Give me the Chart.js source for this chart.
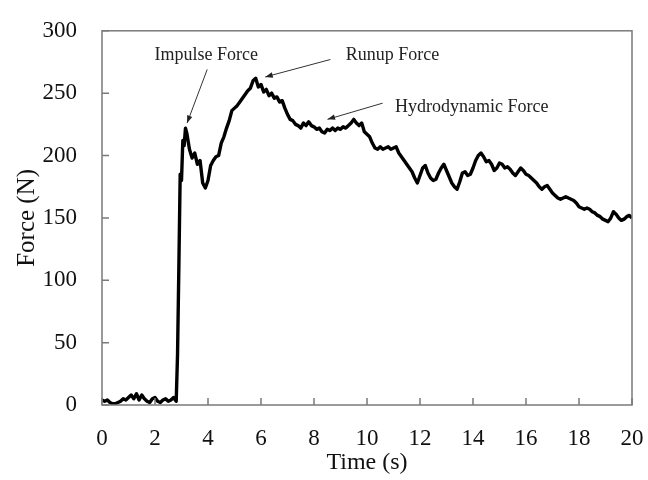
<!DOCTYPE html>
<html>
<head>
<meta charset="utf-8">
<script src="https://cdn.jsdelivr.net/npm/chart.js@4"></script>
<style>
  body { margin: 0; background: #fff; }
  #wrap { width: 648px; height: 480px; }
</style>
</head>
<body>
<div id="wrap"><canvas id="forceChart" width="648" height="480"></canvas></div>
<script>
// time (s) and force (N)
const times = [
  0.0, 0.1, 0.2, 0.3, 0.4, 0.5, 0.6, 0.7, 0.8, 0.9,
  1.0, 1.1, 1.2, 1.3, 1.4, 1.5, 1.6, 1.7, 1.8, 1.9,
  2.0, 2.1, 2.2, 2.3, 2.4, 2.5, 2.6, 2.7, 2.8, 2.85,
  2.9, 2.95, 3.0, 3.05, 3.1, 3.15, 3.2, 3.3, 3.4, 3.5,
  3.6, 3.7, 3.8, 3.9, 4.0, 4.1, 4.2, 4.3, 4.4, 4.5,
  4.6, 4.7, 4.8, 4.9, 5.0, 5.1, 5.2, 5.3, 5.4, 5.5,
  5.6, 5.7, 5.8, 5.9, 6.0, 6.1, 6.2, 6.3, 6.4, 6.5,
  6.6, 6.7, 6.8, 6.9, 7.0, 7.1, 7.2, 7.3, 7.4, 7.5,
  7.6, 7.7, 7.8, 7.9, 8.0, 8.1, 8.2, 8.3, 8.4, 8.5,
  8.6, 8.7, 8.8, 8.9, 9.0, 9.1, 9.2, 9.3, 9.4, 9.5,
  9.6, 9.7, 9.8, 9.9, 10.0, 10.1, 10.2, 10.3, 10.4, 10.5,
  10.6, 10.7, 10.8, 10.9, 11.0, 11.1, 11.2, 11.3, 11.4, 11.5,
  11.6, 11.7, 11.8, 11.9, 12.0, 12.1, 12.2, 12.3, 12.4, 12.5,
  12.6, 12.7, 12.8, 12.9, 13.0, 13.1, 13.2, 13.3, 13.4, 13.5,
  13.6, 13.7, 13.8, 13.9, 14.0, 14.1, 14.2, 14.3, 14.4, 14.5,
  14.6, 14.7, 14.8, 14.9, 15.0, 15.1, 15.2, 15.3, 15.4, 15.5,
  15.6, 15.7, 15.8, 15.9, 16.0, 16.1, 16.2, 16.3, 16.4, 16.5,
  16.6, 16.7, 16.8, 16.9, 17.0, 17.1, 17.2, 17.3, 17.4, 17.5,
  17.6, 17.7, 17.8, 17.9, 18.0, 18.1, 18.2, 18.3, 18.4, 18.5,
  18.6, 18.7, 18.8, 18.9, 19.0, 19.1, 19.2, 19.3, 19.4, 19.5,
  19.6, 19.7, 19.8, 19.9, 20.0
];
const forces = [
  4, 3, 4, 2, 1, 1, 2, 3, 5, 4,
  6, 8, 5, 9, 4, 8, 5, 3, 2, 5,
  6, 3, 2, 4, 5, 3, 4, 6, 3, 40,
  110, 185, 180, 212, 208, 222, 218, 205, 198, 202,
  193, 196, 178, 174, 180, 192, 196, 199, 200, 210,
  215, 222, 228, 236, 238, 240, 243, 246, 249, 252,
  254, 260, 262, 255, 257, 251, 253, 248, 250, 246,
  247, 243, 244, 238, 233, 229, 228, 225, 224, 222,
  226, 224, 227, 224, 223, 221, 222, 219, 218, 221,
  220, 222, 220, 222, 221, 223, 222, 224, 226, 229,
  226, 224, 226, 219, 217, 215, 210, 206, 205, 207,
  205, 206, 207, 205, 206, 207, 202, 199, 196, 193,
  190, 187, 182, 178, 184, 190, 192, 186, 182, 180,
  181, 186, 190, 193, 188, 183, 178, 175, 173, 179,
  186, 187, 184, 185, 190, 196, 200, 202, 199, 195,
  196, 193, 188, 190, 194, 193, 190, 191, 189, 186,
  184, 187, 190, 188, 185, 184, 182, 180, 178, 175,
  173, 175, 176, 173, 170, 168, 166, 165, 166, 167,
  166, 165, 164, 162, 159, 158, 157, 158, 157, 155,
  154, 152, 151, 149, 148, 147, 150, 155, 153, 150,
  148, 149, 151, 152, 150
];

const xTicks = [0, 2, 4, 6, 8, 10, 12, 14, 16, 18, 20];
const yTicks = [0, 50, 100, 150, 200, 250, 300];

// labels with arrow: text position, arrow start, arrow tip (data units)
const notes = [
  { text: 'Impulse Force', tx: 3.93, ty: 280, from: [3.97, 269], to: [3.21, 226] },
  { text: 'Runup Force', tx: 10.96, ty: 280, from: [8.62, 277], to: [6.16, 263] },
  { text: 'Hydrodynamic Force', tx: 13.95, ty: 239, from: [10.59, 242], to: [8.51, 229] }
];

const serif = "'Liberation Serif', 'Times New Roman', serif";

const framePlugin = {
  id: 'frame',
  afterDraw(chart) {
    const { ctx, chartArea: a, scales: { x, y } } = chart;
    ctx.save();
    ctx.strokeStyle = '#7a7a7a';
    ctx.lineWidth = 1.5;
    ctx.strokeRect(a.left, a.top, a.right - a.left, a.bottom - a.top);
    ctx.beginPath();
    xTicks.forEach(v => {
      const px = x.getPixelForValue(v);
      ctx.moveTo(px, a.bottom);
      ctx.lineTo(px, a.bottom - 7);
    });
    yTicks.forEach(v => {
      const py = y.getPixelForValue(v);
      ctx.moveTo(a.left, py);
      ctx.lineTo(a.left + 7, py);
    });
    ctx.stroke();

    // annotations
    ctx.fillStyle = '#222';
    ctx.strokeStyle = '#333';
    ctx.lineWidth = 1;
    ctx.font = '18px ' + serif;
    ctx.textAlign = 'center';
    ctx.textBaseline = 'middle';
    notes.forEach(n => {
      ctx.fillText(n.text, x.getPixelForValue(n.tx), y.getPixelForValue(n.ty));
      const x0 = x.getPixelForValue(n.from[0]), y0 = y.getPixelForValue(n.from[1]);
      const x1 = x.getPixelForValue(n.to[0]), y1 = y.getPixelForValue(n.to[1]);
      ctx.beginPath();
      ctx.moveTo(x0, y0);
      ctx.lineTo(x1, y1);
      ctx.stroke();
      const ang = Math.atan2(y1 - y0, x1 - x0);
      ctx.beginPath();
      ctx.moveTo(x1, y1);
      ctx.lineTo(x1 - 8 * Math.cos(ang - 0.35), y1 - 8 * Math.sin(ang - 0.35));
      ctx.lineTo(x1 - 8 * Math.cos(ang + 0.35), y1 - 8 * Math.sin(ang + 0.35));
      ctx.closePath();
      ctx.fill();
    });
    ctx.restore();
  }
};

const ctx = document.getElementById('forceChart').getContext('2d');
new Chart(ctx, {
  type: 'line',
  data: {
    datasets: [{
      label: 'Force',
      data: times.map((t, i) => ({ x: t, y: forces[i] })),
      borderColor: '#000',
      borderWidth: 3.4,
      borderJoinStyle: 'round',
      pointRadius: 0,
      tension: 0,
      fill: false
    }]
  },
  options: {
    responsive: false,
    animation: false,
    layout: { padding: { left: 0, right: 16, top: 21, bottom: 0 } },
    plugins: {
      legend: { display: false },
      tooltip: { enabled: false }
    },
    scales: {
      x: {
        type: 'linear',
        min: 0,
        max: 20,
        grid: { display: false },
        border: { display: false },
        afterBuildTicks: s => { s.ticks = xTicks.map(v => ({ value: v })); },
        afterFit: s => { s.height = 75; s.paddingLeft = 0; s.paddingRight = 0; },
        ticks: {
          color: '#111',
          padding: 12,
          maxRotation: 0,
          font: { family: serif, size: 23 }
        },
        title: {
          display: true,
          text: 'Time (s)',
          color: '#111',
          padding: { top: 0, bottom: 3 },
          font: { family: serif, size: 24 }
        }
      },
      y: {
        min: 0,
        max: 300,
        grid: { display: false },
        border: { display: false },
        afterBuildTicks: s => { s.ticks = yTicks.map(v => ({ value: v })); },
        afterFit: s => { s.width = 102; },
        ticks: {
          color: '#111',
          padding: 17,
          font: { family: serif, size: 23 }
        },
        title: {
          display: true,
          text: 'Force (N)',
          color: '#111',
          padding: { top: 12, bottom: 0 },
          font: { family: serif, size: 25 }
        }
      }
    }
  },
  plugins: [framePlugin]
});
</script>
</body>
</html>
